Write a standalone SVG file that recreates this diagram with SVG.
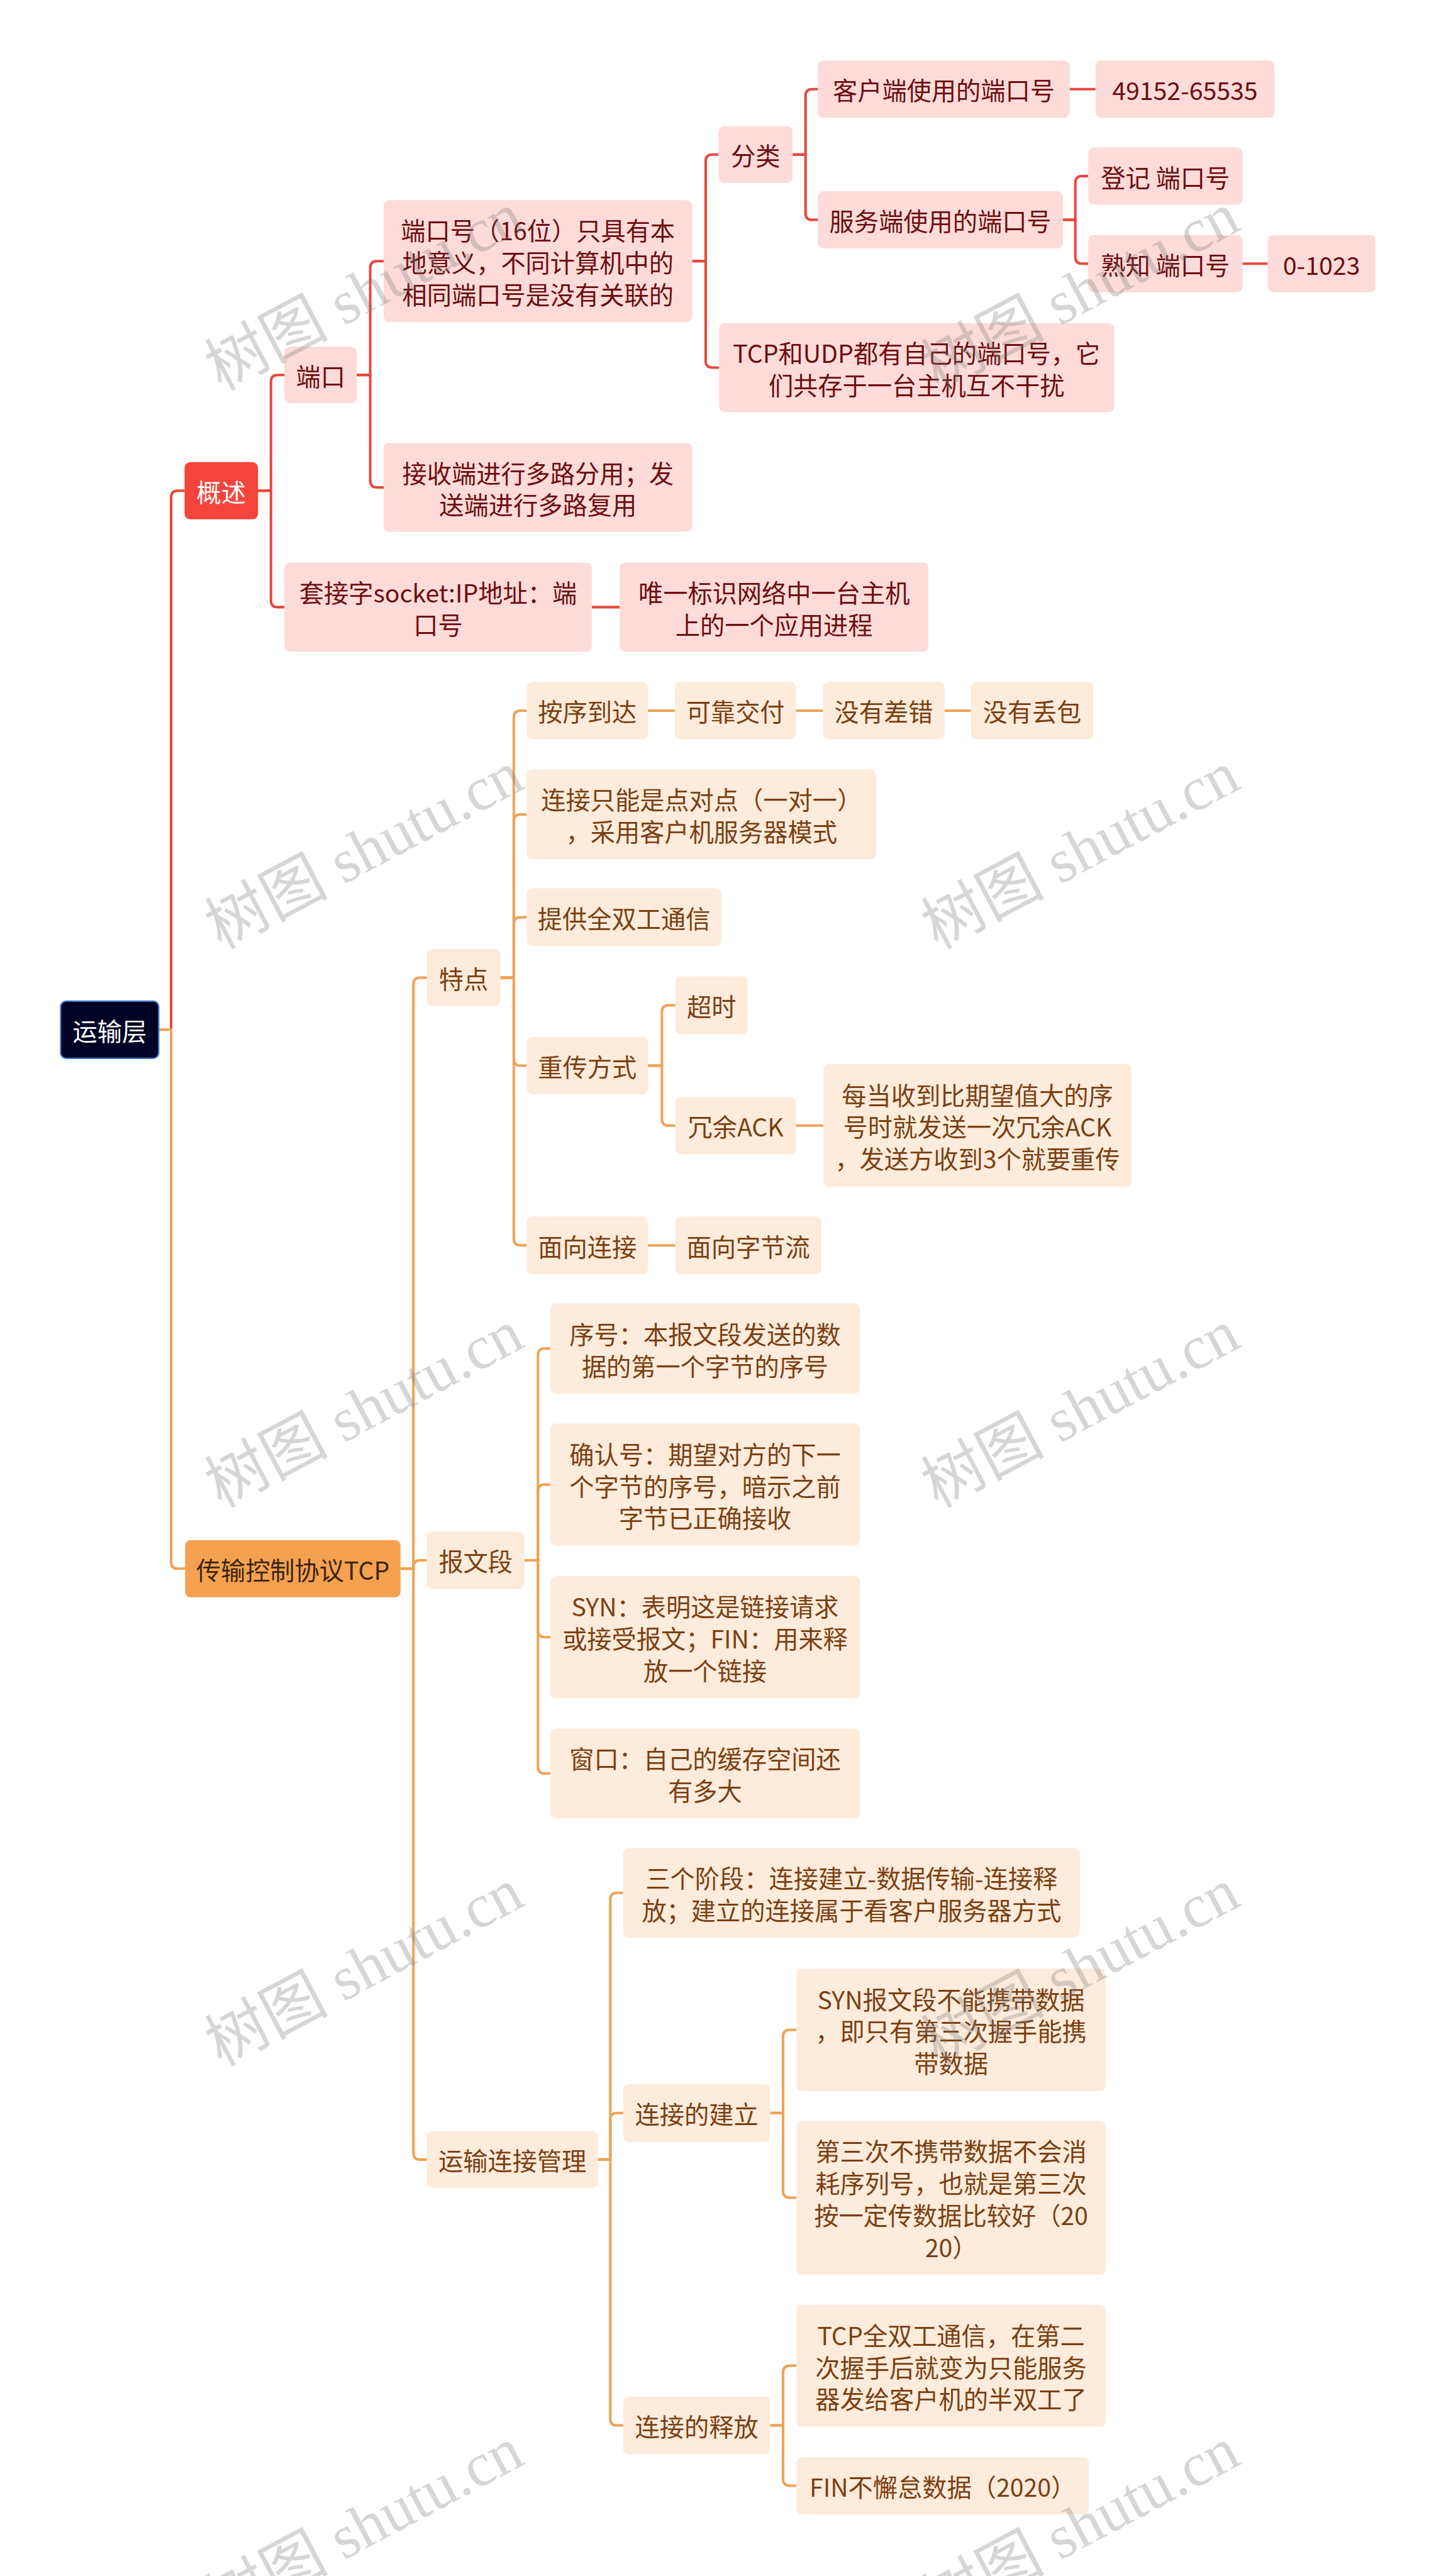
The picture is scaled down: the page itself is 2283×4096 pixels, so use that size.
<svg xmlns="http://www.w3.org/2000/svg" width="2283" height="4096" viewBox="0 0 2283 4096">
<style>
text{font-family:"Noto Sans CJK SC","Noto Sans",sans-serif;font-size:44px;text-anchor:middle;dominant-baseline:central}
.r{fill:#fddbd9}
.o{fill:#fdebdb}
.tr{fill:#6e0d0d}
.to{fill:#7b3f12}
.lr{stroke:#e8473e;stroke-width:4.5;fill:none}
.lo{stroke:#f0a255;stroke-width:4.5;fill:none}
.wm{font-family:"Liberation Serif","Noto Sans CJK SC",serif;font-size:110px;fill:#787878;fill-opacity:0.3}
</style>
<rect x="0" y="0" width="2283" height="4096" fill="#ffffff"/>
<g transform="scale(0.8918)">
<g id="connectors">
<path class="lr" d="M305 1836 V887 Q305 875 317 875 H329"/>
<path class="lr" d="M460 875 H483 V680.5 Q483 668.5 495 668.5 H507"/>
<path class="lr" d="M460 875 H483 V1070.5 Q483 1082.5 495 1082.5 H507"/>
<path class="lr" d="M636 668.5 H660 V477.5 Q660 465.5 672 465.5 H684"/>
<path class="lr" d="M636 668.5 H660 V857 Q660 869 672 869 H684"/>
<path class="lr" d="M1234 465.5 H1258 V287.5 Q1258 275.5 1270 275.5 H1281"/>
<path class="lr" d="M1234 465.5 H1258 V643.5 Q1258 655.5 1270 655.5 H1282"/>
<path class="lr" d="M1413 275.5 H1436 V171 Q1436 159 1448 159 H1458"/>
<path class="lr" d="M1413 275.5 H1436 V380 Q1436 392 1448 392 H1458"/>
<path class="lr" d="M1907 159 H1953"/>
<path class="lr" d="M1895 392 H1917 V326 Q1917 314 1929 314 H1940"/>
<path class="lr" d="M1895 392 H1917 V458 Q1917 470 1929 470 H1940"/>
<path class="lr" d="M2215 470 H2260"/>
<path class="lr" d="M1055 1082.5 H1105"/>
<path class="lo" d="M283 1836 H305 V2785 Q305 2797 317 2797 H330"/>
<path class="lo" d="M714 2797 H737 V1755 Q737 1743 749 1743 H761"/>
<path class="lo" d="M714 2797 H737 V2794 Q737 2782 749 2782 H761"/>
<path class="lo" d="M714 2797 H737 V3838.5 Q737 3850.5 749 3850.5 H761"/>
<path class="lo" d="M892 1743 H916 V1279 Q916 1267 928 1267 H939"/>
<path class="lo" d="M892 1743 H916 V1464 Q916 1452 928 1452 H939"/>
<path class="lo" d="M892 1743 H916 V1647.5 Q916 1635.5 928 1635.5 H939"/>
<path class="lo" d="M892 1743 H916 V1888 Q916 1900 928 1900 H939"/>
<path class="lo" d="M892 1743 H916 V2208.5 Q916 2220.5 928 2220.5 H939"/>
<path class="lo" d="M1155 1267 H1203 M1419 1267 H1467 M1684 1267 H1731"/>
<path class="lo" d="M1155 1900 H1180 V1804.5 Q1180 1792.5 1192 1792.5 H1204"/>
<path class="lo" d="M1155 1900 H1180 V1995 Q1180 2007 1192 2007 H1204"/>
<path class="lo" d="M1419 2007 H1468"/>
<path class="lo" d="M1155 2220.5 H1204"/>
<path class="lo" d="M935 2782 H959 V2416.5 Q959 2404.5 971 2404.5 H981"/>
<path class="lo" d="M935 2782 H959 V2659 Q959 2647 971 2647 H981"/>
<path class="lo" d="M935 2782 H959 V2907 Q959 2919 971 2919 H981"/>
<path class="lo" d="M935 2782 H959 V3150 Q959 3162 971 3162 H981"/>
<path class="lo" d="M1066 3850.5 H1088 V3387 Q1088 3375 1100 3375 H1111"/>
<path class="lo" d="M1066 3850.5 H1088 V3779.5 Q1088 3767.5 1100 3767.5 H1111"/>
<path class="lo" d="M1066 3850.5 H1088 V4312.5 Q1088 4324.5 1100 4324.5 H1111"/>
<path class="lo" d="M1373 3767.5 H1396 V3631 Q1396 3619 1408 3619 H1420"/>
<path class="lo" d="M1373 3767.5 H1396 V3906.5 Q1396 3918.5 1408 3918.5 H1420"/>
<path class="lo" d="M1373 4324.5 H1396 V4230 Q1396 4218 1408 4218 H1420"/>
<path class="lo" d="M1373 4324.5 H1396 V4420 Q1396 4432 1408 4432 H1420"/>
</g>
<g id="root"><rect x="108" y="1785" width="175" height="102" rx="10" fill="#020224" stroke="#3f7fd8" stroke-width="2.5"/><text x="195.5" y="1836" fill="#ffffff">运输层</text></g>
<g id="n-gaishu"><rect x="329" y="824" width="131" height="102" rx="10" fill="#f5443c"/><text x="394.5" y="875" fill="#ffffff">概述</text></g>
<g id="n-duankou"><rect class="r" x="507" y="618" width="129" height="101" rx="10"/><text class="tr" x="571.5" y="668.5">端口</text></g>
<g id="n-dkh"><rect class="r" x="684" y="357" width="550" height="217" rx="10"/><text class="tr" x="959"><tspan x="959" y="408.5">端口号（16位）只具有本</tspan><tspan x="959" y="465.5">地意义，不同计算机中的</tspan><tspan x="959" y="522.5">相同端口号是没有关联的</tspan></text></g>
<g id="n-jsd"><rect class="r" x="684" y="790" width="550" height="158" rx="10"/><text class="tr" x="959"><tspan x="959" y="840.5">接收端进行多路分用；发</tspan><tspan x="959" y="897.5">送端进行多路复用</tspan></text></g>
<g id="n-tjz"><rect class="r" x="507" y="1003" width="548" height="159" rx="10"/><text class="tr" x="781"><tspan x="781" y="1054">套接字socket:IP地址：端</tspan><tspan x="781" y="1111">口号</tspan></text></g>
<g id="n-wy"><rect class="r" x="1105" y="1003" width="550" height="159" rx="10"/><text class="tr" x="1380"><tspan x="1380" y="1054">唯一标识网络中一台主机</tspan><tspan x="1380" y="1111">上的一个应用进程</tspan></text></g>
<g id="n-fl"><rect class="r" x="1281" y="225" width="132" height="101" rx="10"/><text class="tr" x="1347" y="275.5">分类</text></g>
<g id="n-tcpudp"><rect class="r" x="1282" y="576" width="704" height="159" rx="10"/><text class="tr" x="1634"><tspan x="1634" y="627">TCP和UDP都有自己的端口号，它</tspan><tspan x="1634" y="684">们共存于一台主机互不干扰</tspan></text></g>
<g id="n-khd"><rect class="r" x="1458" y="108" width="449" height="102" rx="10"/><text class="tr" x="1682.5" y="159">客户端使用的端口号</text></g>
<g id="n-49152"><rect class="r" x="1953" y="108" width="319" height="102" rx="10"/><text class="tr" x="2112.5" y="159">49152-65535</text></g>
<g id="n-fwd"><rect class="r" x="1458" y="341" width="437" height="102" rx="10"/><text class="tr" x="1676.5" y="392">服务端使用的端口号</text></g>
<g id="n-dj"><rect class="r" x="1940" y="263" width="275" height="102" rx="10"/><text class="tr" x="2077.5" y="314">登记 端口号</text></g>
<g id="n-sz"><rect class="r" x="1940" y="419" width="275" height="102" rx="10"/><text class="tr" x="2077.5" y="470">熟知 端口号</text></g>
<g id="n-0"><rect class="r" x="2260" y="419" width="192" height="102" rx="10"/><text class="tr" x="2356" y="470">0-1023</text></g>
<g id="n-tcp"><rect x="330" y="2746" width="384" height="102" rx="10" fill="#f5a14f"/><text x="522" y="2797" fill="#3a2510">传输控制协议TCP</text></g>
<g id="n-td"><rect class="o" x="761" y="1692" width="131" height="102" rx="10"/><text class="to" x="826.5" y="1743">特点</text></g>
<g id="n-bwd"><rect class="o" x="761" y="2731" width="174" height="102" rx="10"/><text class="to" x="848" y="2782">报文段</text></g>
<g id="n-yscm"><rect class="o" x="761" y="3800" width="305" height="101" rx="10"/><text class="to" x="913.5" y="3850.5">运输连接管理</text></g>
<g id="n-axdd"><rect class="o" x="939" y="1216" width="216" height="102" rx="10"/><text class="to" x="1047" y="1267">按序到达</text></g>
<g id="n-kkjf"><rect class="o" x="1203" y="1216" width="216" height="102" rx="10"/><text class="to" x="1311" y="1267">可靠交付</text></g>
<g id="n-mycc"><rect class="o" x="1467" y="1216" width="217" height="102" rx="10"/><text class="to" x="1575.5" y="1267">没有差错</text></g>
<g id="n-mydb"><rect class="o" x="1731" y="1216" width="218" height="102" rx="10"/><text class="to" x="1840" y="1267">没有丢包</text></g>
<g id="n-ljzn"><rect class="o" x="939" y="1372" width="623" height="160" rx="10"/><text class="to" x="1250.5"><tspan x="1250.5" y="1423.5">连接只能是点对点（一对一）</tspan><tspan x="1250.5" y="1480.5">，采用客户机服务器模式</tspan></text></g>
<g id="n-tgqsg"><rect class="o" x="939" y="1584" width="347" height="103" rx="10"/><text class="to" x="1112.5" y="1635.5">提供全双工通信</text></g>
<g id="n-ccfs"><rect class="o" x="939" y="1849" width="216" height="102" rx="10"/><text class="to" x="1047" y="1900">重传方式</text></g>
<g id="n-cs"><rect class="o" x="1204" y="1741" width="129" height="103" rx="10"/><text class="to" x="1268.5" y="1792.5">超时</text></g>
<g id="n-ryack"><rect class="o" x="1204" y="1956" width="215" height="102" rx="10"/><text class="to" x="1311.5" y="2007">冗余ACK</text></g>
<g id="n-md"><rect class="o" x="1468" y="1897" width="549" height="219" rx="10"/><text class="to" x="1742.5"><tspan x="1742.5" y="1949.5">每当收到比期望值大的序</tspan><tspan x="1742.5" y="2006.5">号时就发送一次冗余ACK</tspan><tspan x="1742.5" y="2063.5">，发送方收到3个就要重传</tspan></text></g>
<g id="n-mxlj"><rect class="o" x="939" y="2169" width="216" height="103" rx="10"/><text class="to" x="1047" y="2220.5">面向连接</text></g>
<g id="n-mxzjl"><rect class="o" x="1204" y="2169" width="260" height="103" rx="10"/><text class="to" x="1334" y="2220.5">面向字节流</text></g>
<g id="n-xh"><rect class="o" x="981" y="2324" width="552" height="161" rx="10"/><text class="to" x="1257"><tspan x="1257" y="2376">序号：本报文段发送的数</tspan><tspan x="1257" y="2433">据的第一个字节的序号</tspan></text></g>
<g id="n-qrh"><rect class="o" x="981" y="2538" width="552" height="218" rx="10"/><text class="to" x="1257"><tspan x="1257" y="2590">确认号：期望对方的下一</tspan><tspan x="1257" y="2647">个字节的序号，暗示之前</tspan><tspan x="1257" y="2704">字节已正确接收</tspan></text></g>
<g id="n-syn"><rect class="o" x="981" y="2810" width="552" height="218" rx="10"/><text class="to" x="1257"><tspan x="1257" y="2862">SYN：表明这是链接请求</tspan><tspan x="1257" y="2919">或接受报文；FIN：用来释</tspan><tspan x="1257" y="2976">放一个链接</tspan></text></g>
<g id="n-ck"><rect class="o" x="981" y="3082" width="552" height="160" rx="10"/><text class="to" x="1257"><tspan x="1257" y="3133.5">窗口：自己的缓存空间还</tspan><tspan x="1257" y="3190.5">有多大</tspan></text></g>
<g id="n-sgjd"><rect class="o" x="1111" y="3295" width="814" height="160" rx="10"/><text class="to" x="1518"><tspan x="1518" y="3346.5">三个阶段：连接建立-数据传输-连接释</tspan><tspan x="1518" y="3403.5">放；建立的连接属于看客户服务器方式</tspan></text></g>
<g id="n-ljjl"><rect class="o" x="1111" y="3716" width="262" height="103" rx="10"/><text class="to" x="1242" y="3767.5">连接的建立</text></g>
<g id="n-ljsf"><rect class="o" x="1111" y="4273" width="262" height="103" rx="10"/><text class="to" x="1242" y="4324.5">连接的释放</text></g>
<g id="n-synbw"><rect class="o" x="1420" y="3510" width="551" height="218" rx="10"/><text class="to" x="1695.5"><tspan x="1695.5" y="3562">SYN报文段不能携带数据</tspan><tspan x="1695.5" y="3619">，即只有第三次握手能携</tspan><tspan x="1695.5" y="3676">带数据</tspan></text></g>
<g id="n-dsc"><rect class="o" x="1420" y="3781" width="551" height="275" rx="10"/><text class="to" x="1695.5"><tspan x="1695.5" y="3833">第三次不携带数据不会消</tspan><tspan x="1695.5" y="3890">耗序列号，也就是第三次</tspan><tspan x="1695.5" y="3947">按一定传数据比较好（20</tspan><tspan x="1695.5" y="4004">20）</tspan></text></g>
<g id="n-tcpqsg"><rect class="o" x="1420" y="4109" width="551" height="218" rx="10"/><text class="to" x="1695.5"><tspan x="1695.5" y="4161">TCP全双工通信，在第二</tspan><tspan x="1695.5" y="4218">次握手后就变为只能服务</tspan><tspan x="1695.5" y="4275">器发给客户机的半双工了</tspan></text></g>
<g id="n-fin"><rect class="o" x="1420" y="4381" width="521" height="102" rx="10"/><text class="to" x="1680.5" y="4432">FIN不懈怠数据（2020）</text></g>
<g id="watermark">
<text class="wm" transform="translate(649 520) rotate(-28)">树图 shutu.cn</text>
<text class="wm" transform="translate(1926 520) rotate(-28)">树图 shutu.cn</text>
<text class="wm" transform="translate(649 1516) rotate(-28)">树图 shutu.cn</text>
<text class="wm" transform="translate(1926 1516) rotate(-28)">树图 shutu.cn</text>
<text class="wm" transform="translate(649 2512) rotate(-28)">树图 shutu.cn</text>
<text class="wm" transform="translate(1926 2512) rotate(-28)">树图 shutu.cn</text>
<text class="wm" transform="translate(649 3508) rotate(-28)">树图 shutu.cn</text>
<text class="wm" transform="translate(1926 3508) rotate(-28)">树图 shutu.cn</text>
<text class="wm" transform="translate(649 4504) rotate(-28)">树图 shutu.cn</text>
<text class="wm" transform="translate(1926 4504) rotate(-28)">树图 shutu.cn</text>
</g>
</g>
</svg>
